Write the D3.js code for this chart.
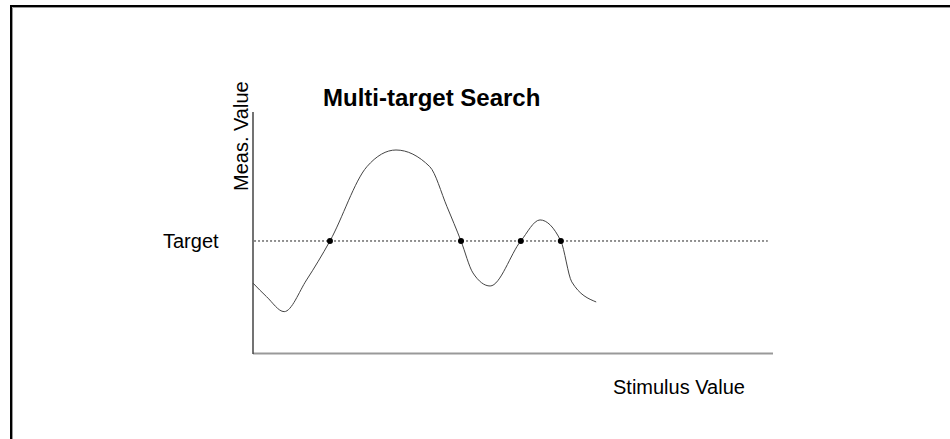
<!DOCTYPE html>
<html>
<head>
<meta charset="utf-8">
<script src="https://cdn.jsdelivr.net/npm/d3@7"></script>
<style>
  body { margin: 0; background: #fff; }
  text { font-family: Arial, "Liberation Sans", sans-serif; fill: #000; }
</style>
</head>
<body>
<svg id="chart" width="950" height="439"></svg>
<script>
var stimulus = [0, 2.6, 6.0, 10.3, 14.8, 21.9, 27.5, 34.0, 37.3, 40.0, 42.3, 45.6, 51.5, 55.2, 59.2, 61.3, 66.0];
var measured = [29.3, 23.7, 17.5, 30.6, 46.7, 77.4, 84.3, 77.4, 60.9, 46.7, 33.5, 28.1, 46.7, 55.4, 46.7, 29.8, 21.5];

// target level and where the curve hits it
var targetValue = 46.7;
var hits = [14.8, 40.0, 51.5, 59.2];

var titleText = "Multi-target Search";
var xLabel = "Stimulus Value";
var yLabel = "Meas. Value";
var targetLabel = "Target";

var svg = d3.select('#chart');

var x = d3.scaleLinear().domain([0, 100]).range([253, 773]);
var y = d3.scaleLinear().domain([0, 100]).range([354, 112]);

// frame, only top and left edges are inside the picture
svg.append('path')
    .attr('d', 'M11,439V6H950')
    .attr('fill', 'none')
    .attr('stroke', '#000')
    .attr('stroke-width', 2);
svg.append('path')
    .attr('d', 'M12.5,439V7.5H950')
    .attr('fill', 'none')
    .attr('stroke', '#999')
    .attr('stroke-width', 1);

// axes, no ticks
svg.append('line')
    .attr('x1', x(0)).attr('x2', x(100))
    .attr('y1', y(0) - 0.5).attr('y2', y(0) - 0.5)
    .attr('stroke', '#999')
    .attr('stroke-width', 2);
svg.append('line')
    .attr('x1', x(0)).attr('x2', x(0))
    .attr('y1', y(100)).attr('y2', y(0))
    .attr('stroke', '#444')
    .attr('stroke-width', 1.5);

// target line
svg.append('line')
    .attr('x1', x(0.2)).attr('x2', x(99))
    .attr('y1', y(targetValue)).attr('y2', y(targetValue))
    .attr('stroke', '#222')
    .attr('stroke-width', 1)
    .attr('stroke-dasharray', '2,2');

var data = stimulus.map(function(s, i) { return [s, measured[i]]; });

var line = d3.line()
    .x(function(d) { return x(d[0]); })
    .y(function(d) { return y(d[1]); })
    .curve(d3.curveMonotoneX);

svg.append('path')
    .datum(data)
    .attr('d', line)
    .attr('fill', 'none')
    .attr('stroke', '#444')
    .attr('stroke-width', 1);

svg.selectAll('circle.hit')
    .data(hits)
  .enter().append('circle')
    .attr('class', 'hit')
    .attr('cx', function(d) { return x(d); })
    .attr('cy', y(targetValue))
    .attr('r', 3)
    .attr('fill', '#000');

// texts
svg.append('text')
    .attr('x', 323).attr('y', 106)
    .style('font-size', '24px')
    .style('font-weight', 'bold')
    .text(titleText);

svg.append('text')
    .attr('x', 613).attr('y', 394)
    .style('font-size', '20px')
    .text(xLabel);

svg.append('text')
    .attr('transform', 'translate(248,191) rotate(-90)')
    .style('font-size', '20px')
    .text(yLabel);

svg.append('text')
    .attr('x', 163).attr('y', 248)
    .style('font-size', '20px')
    .text(targetLabel);
</script>
</body>
</html>
